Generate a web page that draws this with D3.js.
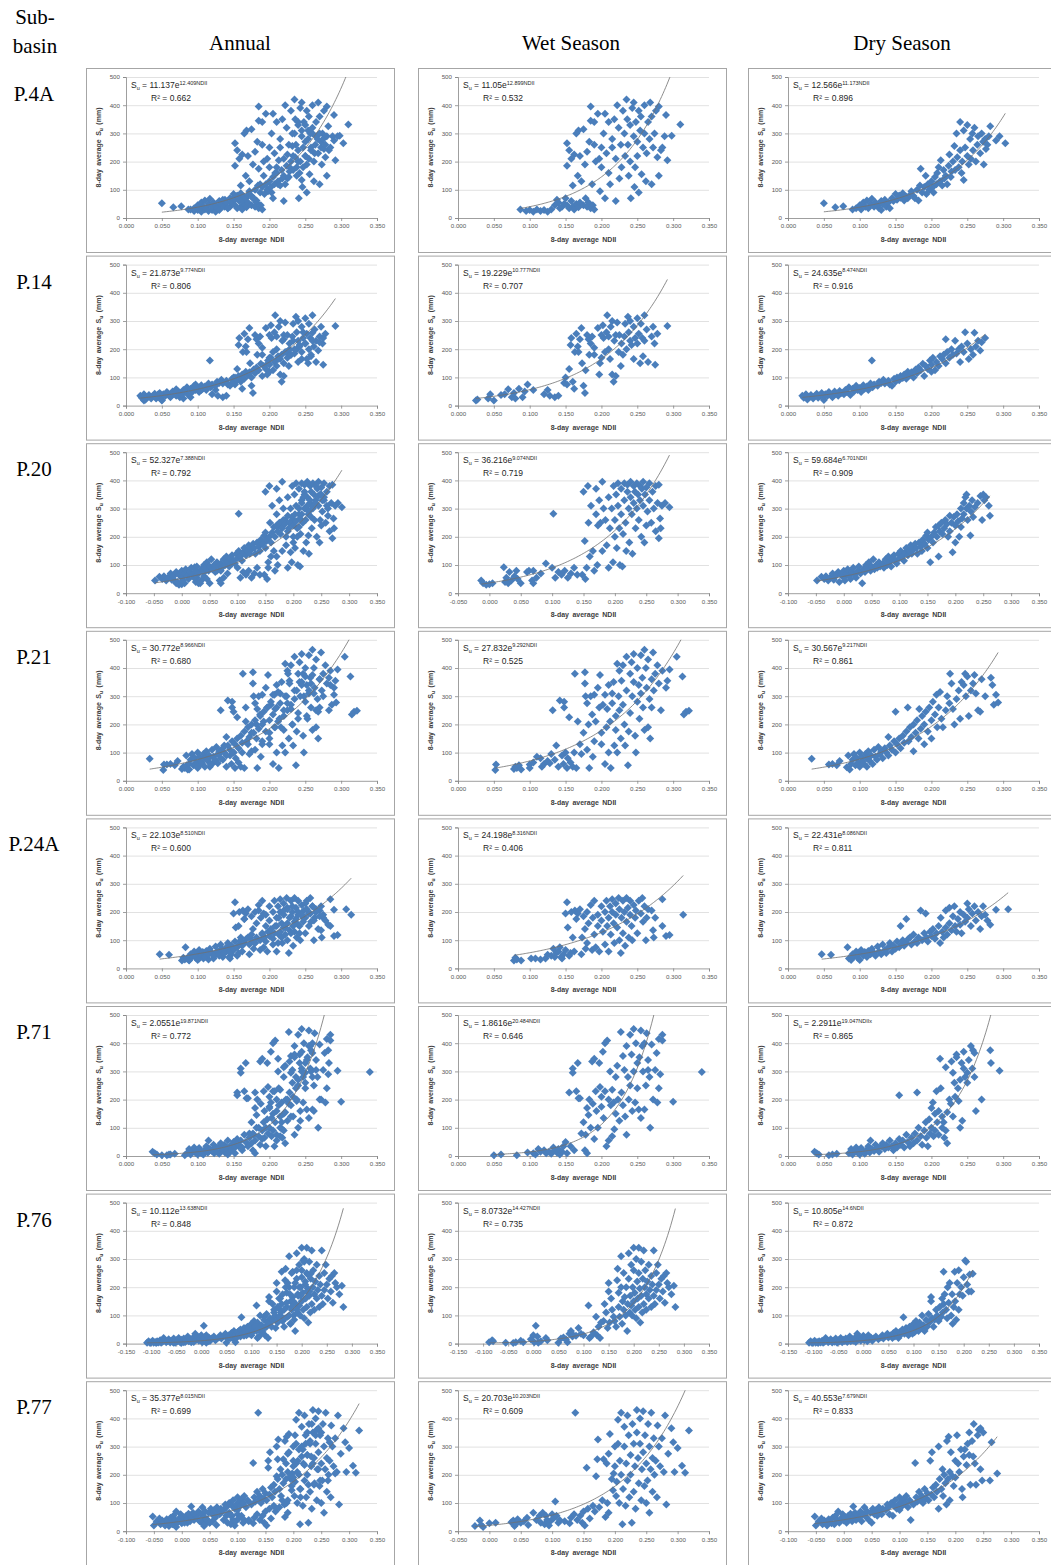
<!DOCTYPE html>
<html>
<head>
<meta charset="utf-8">
<script src="https://cdn.jsdelivr.net/npm/d3@7"></script>
<style>
body { margin: 0; background: #fff; }
svg { display: block; }
.hdr { font-family: "Liberation Serif", "Times New Roman", serif; font-size: 21px; fill: #000; }
.tick text { font-family: "Liberation Sans", Arial, sans-serif; font-size: 6.2px; fill: #595959; }
.ttl { font-family: "Liberation Sans", Arial, sans-serif; font-size: 7px; font-weight: bold; fill: #404040; word-spacing: 1.5px; }
.eq { font-family: "Liberation Sans", Arial, sans-serif; font-size: 8.5px; fill: #262626; }
</style>
</head>
<body>
<svg id="fig" width="1051" height="1565"></svg>
<script>
var subbasins = ['P.4A', 'P.14', 'P.20', 'P.21', 'P.24A', 'P.71', 'P.76', 'P.77'];
var columns = ['Annual', 'Wet Season', 'Dry Season'];

// left end of the NDII axis, per sub-basin: [annual, wet, dry]; right end is 0.350
var xMins = [[0, 0, 0], [0, 0, 0], [-0.1, -0.05, -0.1], [0, 0, 0],
             [0, 0, 0], [0, 0, 0], [-0.15, -0.15, -0.15], [-0.1, -0.05, -0.1]];
var yTicks = [0, 100, 200, 300, 400, 500];

// trendline labels [a, b, R2, suffix]  Su = a e^(b NDII)
var annualFits = [['11.137', '12.409', '0.662', 'NDII'], ['21.873', '9.774', '0.806', 'NDII'],
  ['52.327', '7.388', '0.792', 'NDII'], ['30.772', '8.966', '0.680', 'NDII'],
  ['22.103', '8.510', '0.600', 'NDII'], ['2.0551', '19.871', '0.772', 'NDII'],
  ['10.112', '13.638', '0.848', 'NDII'], ['35.377', '8.015', '0.699', 'NDII']];
var wetFits = [['11.05', '12.899', '0.532', 'NDII'], ['19.229', '10.777', '0.707', 'NDII'],
  ['36.216', '9.074', '0.719', 'NDII'], ['27.832', '9.292', '0.525', 'NDII'],
  ['24.198', '8.316', '0.406', 'NDII'], ['1.8616', '20.484', '0.646', 'NDII'],
  ['8.0732', '14.427', '0.735', 'NDII'], ['20.703', '10.203', '0.609', 'NDII']];
var dryFits = [['12.566', '11.173', '0.896', 'NDII'], ['24.635', '8.474', '0.916', 'NDII'],
  ['59.684', '6.701', '0.909', 'NDII'], ['30.567', '9.217', '0.861', 'NDII'],
  ['22.431', '8.086', '0.811', 'NDII'], ['2.2911', '19.047', '0.865', 'NDIIx'],
  ['10.805', '14.6', '0.872', 'NDII'], ['40.553', '7.679', '0.833', 'NDII']];

// 8-day points [NDII, Su mm]; the annual panel shows wet + dry together
var wetP4A = [[0.087,30],[0.095,25],[0.1,28],[0.105,22],[0.11,30],[0.115,25],[0.12,28],[0.125,22],[0.13,30],[0.135,45],[0.138,65],[0.14,55],[0.142,35],[0.145,40],[0.148,50],[0.15,70],[0.152,45],[0.155,35],[0.158,60],[0.16,40],[0.162,30],[0.165,50],[0.168,38],[0.17,55],[0.175,45],[0.178,70],[0.18,40],[0.182,55],[0.185,35],[0.188,45],[0.19,30],
  [0.152,265],[0.152,185],[0.155,240],[0.158,210],[0.16,115],[0.162,225],[0.165,300],[0.167,150],[0.168,310],[0.17,220],[0.172,130],[0.175,315],[0.177,190],[0.18,235],[0.183,270],[0.185,395],[0.185,345],[0.187,120],[0.19,340],[0.19,260],[0.192,200],[0.195,370],[0.197,210],[0.198,95],[0.2,250],[0.2,180],[0.203,300],[0.205,370],[0.205,70],[0.207,230],[0.21,340],[0.21,160],[0.212,120],[0.215,250],[0.215,280],[0.218,350],[0.22,210],[0.22,60],[0.222,400],[0.224,320],[0.225,140],[0.227,260],[0.228,180],[0.23,380],[0.232,300],[0.233,220],[0.235,420],[0.236,350],[0.237,260],[0.238,150],[0.24,200],[0.24,330],[0.241,70],[0.243,390],[0.245,410],[0.245,290],[0.246,110],[0.247,180],[0.248,340],[0.25,270],[0.25,220],[0.252,380],[0.252,90],[0.254,310],[0.255,360],[0.256,155],[0.258,250],[0.26,400],[0.26,300],[0.262,130],[0.263,230],[0.265,340],[0.267,280],[0.268,410],[0.27,120],[0.27,360],[0.272,250],[0.274,300],[0.276,380],[0.278,215],[0.28,150],[0.28,395],[0.283,240],[0.285,250],[0.288,290],[0.29,365],[0.292,205],[0.298,292],[0.31,332]];
var dryP4A = [[0.05,52],[0.066,38],[0.077,42],[0.09,30],[0.095,35],[0.1,45],[0.102,30],[0.105,55],[0.108,40],[0.11,62],[0.112,35],[0.115,50],[0.117,68],[0.12,40],[0.122,55],[0.125,45],[0.127,35],[0.13,60],[0.13,28],[0.132,50],[0.135,65],[0.137,40],[0.14,55],[0.142,35],[0.145,70],[0.147,60],[0.15,85],[0.152,65],[0.155,80],[0.157,72],[0.16,88],[0.162,62],[0.165,75],[0.167,70],[0.17,82],[0.172,95],[0.175,78],[0.177,70],[0.18,100],[0.182,62],[0.184,115],[0.185,175],[0.187,90],[0.19,110],[0.192,150],[0.193,85],[0.195,120],[0.197,100],[0.2,130],[0.202,110],[0.203,90],[0.205,145],[0.207,120],[0.208,160],[0.21,180],[0.212,130],[0.213,205],[0.215,115],[0.217,170],[0.218,140],[0.22,150],[0.222,120],[0.224,185],[0.225,225],[0.227,145],[0.228,165],[0.23,200],[0.232,255],[0.233,170],[0.235,300],[0.236,215],[0.238,180],[0.24,340],[0.24,240],[0.242,160],[0.243,200],[0.245,135],[0.245,310],[0.247,250],[0.25,220],[0.25,330],[0.252,190],[0.254,280],[0.255,210],[0.257,300],[0.258,240],[0.26,320],[0.262,200],[0.264,260],[0.265,290],[0.268,230],[0.27,300],[0.272,270],[0.273,190],[0.275,280],[0.276,245],[0.278,260],[0.28,290],[0.282,325],[0.29,275],[0.295,290],[0.303,265]];
var wetP14 = [[0.025,18],[0.027,22],[0.042,25],[0.045,40],[0.05,18],[0.06,38],[0.065,40],[0.07,58],[0.075,30],[0.078,45],[0.08,25],[0.085,60],[0.09,30],[0.093,50],[0.097,75],[0.105,55],[0.12,40],[0.125,55],[0.128,35],[0.135,30],[0.14,35],[0.148,80],[0.15,100],[0.152,75],[0.155,130],[0.157,215],[0.158,240],[0.16,85],[0.162,60],[0.163,190],[0.165,255],[0.167,210],[0.168,190],[0.17,235],[0.172,275],[0.173,150],[0.175,70],[0.177,45],[0.178,125],[0.18,250],[0.182,235],[0.183,180],[0.185,220],[0.187,245],[0.19,205],[0.19,180],[0.195,275],[0.197,110],[0.198,150],[0.2,250],[0.2,170],[0.202,285],[0.203,240],[0.205,190],[0.207,260],[0.208,320],[0.21,245],[0.21,200],[0.212,165],[0.213,280],[0.215,110],[0.215,300],[0.217,85],[0.218,230],[0.22,250],[0.22,105],[0.222,295],[0.224,190],[0.225,250],[0.227,140],[0.228,220],[0.23,180],[0.232,245],[0.233,290],[0.235,200],[0.237,315],[0.238,260],[0.24,230],[0.24,300],[0.242,215],[0.245,165],[0.245,280],[0.247,240],[0.25,220],[0.25,310],[0.252,255],[0.254,150],[0.255,290],[0.257,240],[0.258,175],[0.26,320],[0.26,230],[0.263,270],[0.265,155],[0.27,245],[0.272,280],[0.274,220],[0.275,145],[0.278,255],[0.292,282]];
var dryP14 = [[0.02,35],[0.022,28],[0.025,40],[0.027,22],[0.03,30],[0.032,38],[0.035,25],[0.037,33],[0.04,42],[0.042,28],[0.045,35],[0.047,45],[0.05,30],[0.05,20],[0.052,40],[0.055,35],[0.057,48],[0.06,38],[0.062,30],[0.065,50],[0.067,42],[0.07,35],[0.072,52],[0.075,45],[0.078,40],[0.08,55],[0.082,48],[0.085,65],[0.087,38],[0.09,60],[0.092,50],[0.095,70],[0.097,55],[0.1,62],[0.102,48],[0.105,72],[0.107,60],[0.11,68],[0.112,55],[0.115,78],[0.117,160],[0.118,65],[0.12,75],[0.125,70],[0.127,85],[0.13,80],[0.133,92],[0.135,78],[0.14,88],[0.142,75],[0.145,70],[0.148,95],[0.15,85],[0.152,100],[0.155,90],[0.157,105],[0.16,98],[0.162,110],[0.165,95],[0.167,120],[0.17,108],[0.172,118],[0.175,100],[0.178,128],[0.18,115],[0.182,135],[0.185,125],[0.188,148],[0.19,105],[0.192,140],[0.195,130],[0.198,160],[0.2,120],[0.2,145],[0.202,170],[0.205,125],[0.207,155],[0.21,140],[0.212,175],[0.215,165],[0.217,180],[0.22,235],[0.22,150],[0.222,190],[0.225,170],[0.228,200],[0.23,180],[0.233,230],[0.235,185],[0.238,200],[0.24,155],[0.242,210],[0.245,190],[0.247,260],[0.25,220],[0.252,165],[0.255,200],[0.258,180],[0.26,258],[0.262,210],[0.265,230],[0.268,195],[0.27,225],[0.275,240]];
var wetP20 = [[-0.013,45],[-0.01,35],[-0.005,30],[0,32],[0.005,35],[0.023,92],[0.025,40],[0.027,55],[0.03,35],[0.032,75],[0.035,45],[0.04,60],[0.043,80],[0.045,50],[0.05,35],[0.06,75],[0.063,80],[0.068,45],[0.07,80],[0.07,35],[0.075,55],[0.082,70],[0.09,105],[0.1,90],[0.102,282],[0.105,55],[0.11,75],[0.115,65],[0.12,80],[0.125,55],[0.13,70],[0.135,90],[0.14,65],[0.148,65],[0.15,360],[0.152,185],[0.153,50],[0.155,90],[0.157,380],[0.158,250],[0.16,130],[0.162,310],[0.165,150],[0.167,80],[0.17,370],[0.17,280],[0.172,100],[0.173,240],[0.175,330],[0.177,250],[0.18,395],[0.18,150],[0.182,300],[0.185,260],[0.187,170],[0.19,340],[0.19,90],[0.192,230],[0.195,300],[0.197,110],[0.198,380],[0.2,260],[0.2,200],[0.202,350],[0.203,160],[0.205,390],[0.205,310],[0.207,230],[0.208,100],[0.21,370],[0.21,280],[0.212,95],[0.213,210],[0.215,390],[0.215,330],[0.217,250],[0.218,150],[0.22,385],[0.22,360],[0.222,300],[0.223,180],[0.225,395],[0.225,340],[0.227,280],[0.228,140],[0.23,380],[0.23,320],[0.232,360],[0.233,230],[0.235,390],[0.235,300],[0.237,350],[0.238,260],[0.24,380],[0.24,330],[0.242,200],[0.243,370],[0.245,395],[0.245,310],[0.247,180],[0.248,350],[0.25,375],[0.25,240],[0.252,290],[0.255,390],[0.255,330],[0.258,250],[0.26,360],[0.262,300],[0.265,380],[0.265,220],[0.268,320],[0.27,385],[0.27,195],[0.272,265],[0.273,230],[0.275,310],[0.28,320],[0.287,305]];
var dryP20 = [[-0.048,45],[-0.04,58],[-0.035,50],[-0.032,60],[-0.028,45],[-0.025,55],[-0.02,70],[-0.018,48],[-0.015,60],[-0.01,75],[-0.008,40],[-0.005,65],[0,80],[0,55],[0.002,45],[0.005,70],[0.007,85],[0.01,60],[0.012,50],[0.015,75],[0.017,90],[0.02,65],[0.022,55],[0.025,80],[0.027,95],[0.03,70],[0.033,35],[0.035,85],[0.038,75],[0.04,100],[0.042,90],[0.045,110],[0.048,80],[0.05,95],[0.053,120],[0.055,85],[0.058,100],[0.06,90],[0.063,110],[0.065,95],[0.07,105],[0.072,90],[0.075,120],[0.078,100],[0.08,130],[0.082,110],[0.085,95],[0.088,120],[0.09,135],[0.093,115],[0.095,105],[0.098,140],[0.1,125],[0.102,150],[0.105,130],[0.108,115],[0.11,145],[0.112,160],[0.115,135],[0.118,150],[0.12,170],[0.122,140],[0.125,155],[0.128,175],[0.13,160],[0.132,140],[0.135,180],[0.138,165],[0.14,150],[0.142,190],[0.145,175],[0.148,205],[0.15,160],[0.15,215],[0.152,190],[0.155,110],[0.157,200],[0.16,180],[0.162,215],[0.165,235],[0.167,200],[0.17,130],[0.17,240],[0.172,220],[0.175,250],[0.177,210],[0.18,230],[0.182,260],[0.185,245],[0.187,200],[0.19,275],[0.19,220],[0.193,250],[0.195,145],[0.197,270],[0.2,240],[0.2,180],[0.203,280],[0.205,255],[0.207,200],[0.21,300],[0.21,235],[0.212,265],[0.215,320],[0.215,280],[0.218,340],[0.22,300],[0.22,350],[0.222,260],[0.225,310],[0.227,205],[0.228,290],[0.23,330],[0.232,270],[0.235,305],[0.24,320],[0.245,345],[0.248,260],[0.25,350],[0.252,330],[0.255,340],[0.26,310],[0.262,275]];
var wetP21 = [[0.052,38],[0.053,58],[0.078,42],[0.08,50],[0.082,45],[0.085,55],[0.088,40],[0.1,45],[0.1,58],[0.105,65],[0.11,85],[0.115,80],[0.117,50],[0.12,60],[0.125,70],[0.128,62],[0.13,95],[0.132,250],[0.135,75],[0.137,125],[0.14,50],[0.142,285],[0.145,90],[0.147,60],[0.148,260],[0.148,280],[0.15,100],[0.152,45],[0.153,80],[0.155,225],[0.157,65],[0.16,50],[0.162,100],[0.163,380],[0.165,45],[0.167,210],[0.17,130],[0.172,95],[0.175,170],[0.177,385],[0.177,345],[0.178,300],[0.18,275],[0.18,110],[0.182,200],[0.183,45],[0.185,300],[0.187,235],[0.188,85],[0.19,140],[0.19,305],[0.192,210],[0.195,330],[0.197,260],[0.198,375],[0.2,170],[0.2,130],[0.202,270],[0.205,305],[0.205,60],[0.207,190],[0.208,255],[0.21,340],[0.21,100],[0.212,210],[0.213,45],[0.215,310],[0.215,275],[0.217,350],[0.218,125],[0.22,180],[0.22,230],[0.222,415],[0.222,100],[0.224,300],[0.225,390],[0.225,250],[0.227,150],[0.228,355],[0.23,410],[0.23,270],[0.232,200],[0.233,125],[0.235,440],[0.235,320],[0.237,55],[0.238,175],[0.24,380],[0.24,240],[0.242,420],[0.243,300],[0.245,450],[0.245,350],[0.247,160],[0.248,100],[0.25,400],[0.25,280],[0.252,340],[0.253,220],[0.255,445],[0.255,310],[0.257,365],[0.258,260],[0.26,465],[0.26,180],[0.262,400],[0.263,330],[0.265,430],[0.265,190],[0.267,290],[0.268,150],[0.27,360],[0.27,260],[0.272,455],[0.273,320],[0.275,380],[0.278,410],[0.28,345],[0.283,250],[0.285,390],[0.29,330],[0.292,355],[0.295,395],[0.305,440],[0.313,370],[0.315,235],[0.318,245],[0.322,248]];
var dryP21 = [[0.033,78],[0.057,58],[0.062,60],[0.068,55],[0.072,70],[0.082,48],[0.084,90],[0.086,40],[0.088,60],[0.09,75],[0.092,95],[0.094,55],[0.096,80],[0.098,65],[0.1,100],[0.1,50],[0.102,85],[0.104,70],[0.106,60],[0.108,95],[0.11,80],[0.11,50],[0.112,105],[0.114,70],[0.116,90],[0.118,60],[0.12,110],[0.122,85],[0.124,75],[0.126,120],[0.128,95],[0.13,105],[0.132,80],[0.135,115],[0.137,100],[0.14,155],[0.14,90],[0.142,125],[0.145,110],[0.148,140],[0.15,245],[0.15,100],[0.152,130],[0.155,150],[0.157,115],[0.16,160],[0.162,135],[0.165,175],[0.167,260],[0.168,140],[0.17,190],[0.172,155],[0.175,105],[0.175,200],[0.178,170],[0.18,215],[0.182,150],[0.183,255],[0.185,185],[0.187,230],[0.19,200],[0.19,130],[0.192,245],[0.195,175],[0.197,260],[0.2,215],[0.2,150],[0.202,280],[0.205,235],[0.207,305],[0.208,190],[0.21,260],[0.212,315],[0.214,220],[0.216,190],[0.22,250],[0.222,300],[0.225,275],[0.226,380],[0.228,345],[0.23,255],[0.232,200],[0.235,290],[0.238,320],[0.24,220],[0.242,350],[0.245,340],[0.247,380],[0.248,300],[0.25,370],[0.252,230],[0.255,320],[0.258,345],[0.26,375],[0.262,310],[0.265,250],[0.268,245],[0.27,360],[0.275,300],[0.283,365],[0.285,340],[0.287,270],[0.29,305],[0.293,278]];
var wetP24A = [[0.078,28],[0.08,38],[0.082,32],[0.088,28],[0.102,35],[0.108,35],[0.115,32],[0.122,35],[0.125,48],[0.13,45],[0.133,70],[0.135,40],[0.137,55],[0.14,60],[0.142,75],[0.144,40],[0.145,35],[0.147,50],[0.15,195],[0.15,65],[0.152,235],[0.153,145],[0.155,45],[0.157,55],[0.158,200],[0.16,110],[0.162,60],[0.163,205],[0.165,175],[0.167,195],[0.17,210],[0.172,50],[0.173,110],[0.175,185],[0.177,140],[0.178,70],[0.18,90],[0.18,200],[0.182,160],[0.185,225],[0.187,65],[0.188,180],[0.19,240],[0.19,120],[0.192,75],[0.195,190],[0.195,150],[0.197,60],[0.2,220],[0.2,170],[0.202,130],[0.205,200],[0.205,85],[0.207,240],[0.208,150],[0.21,180],[0.21,60],[0.212,220],[0.213,120],[0.215,245],[0.215,200],[0.217,160],[0.218,90],[0.22,230],[0.22,190],[0.222,145],[0.224,250],[0.225,210],[0.225,100],[0.227,55],[0.228,180],[0.23,240],[0.23,125],[0.232,200],[0.233,80],[0.235,250],[0.235,165],[0.237,215],[0.238,110],[0.24,190],[0.24,240],[0.242,150],[0.243,100],[0.245,225],[0.247,180],[0.248,205],[0.25,125],[0.252,240],[0.255,195],[0.257,250],[0.258,165],[0.26,220],[0.262,100],[0.263,180],[0.265,210],[0.27,205],[0.272,135],[0.273,110],[0.275,180],[0.285,150],[0.285,245],[0.29,115],[0.295,118],[0.314,190]];
var dryP24A = [[0.047,50],[0.06,48],[0.083,75],[0.085,35],[0.088,30],[0.09,50],[0.092,42],[0.095,60],[0.097,38],[0.1,55],[0.1,30],[0.102,65],[0.105,45],[0.107,58],[0.11,40],[0.112,62],[0.115,50],[0.117,70],[0.12,55],[0.122,45],[0.125,78],[0.127,60],[0.13,50],[0.132,85],[0.135,65],[0.137,55],[0.14,75],[0.142,90],[0.145,60],[0.147,80],[0.15,70],[0.152,95],[0.155,75],[0.157,150],[0.158,85],[0.16,100],[0.162,80],[0.165,175],[0.165,90],[0.168,105],[0.17,110],[0.172,85],[0.175,120],[0.177,95],[0.18,90],[0.182,110],[0.185,205],[0.187,100],[0.19,125],[0.192,195],[0.193,110],[0.195,95],[0.198,130],[0.2,115],[0.202,140],[0.205,105],[0.207,125],[0.21,150],[0.212,90],[0.213,180],[0.215,130],[0.217,110],[0.22,205],[0.22,145],[0.222,120],[0.225,215],[0.225,160],[0.228,135],[0.23,185],[0.232,220],[0.233,150],[0.235,130],[0.237,175],[0.24,200],[0.24,155],[0.242,125],[0.245,190],[0.247,165],[0.25,230],[0.25,180],[0.252,210],[0.255,150],[0.257,195],[0.26,220],[0.262,170],[0.265,200],[0.268,140],[0.27,185],[0.272,220],[0.275,190],[0.278,170],[0.282,155],[0.29,208],[0.307,210]];
var wetP71 = [[0.05,3],[0.06,5],[0.082,3],[0.097,12],[0.105,10],[0.108,5],[0.112,25],[0.115,15],[0.12,20],[0.123,10],[0.127,15],[0.13,8],[0.133,30],[0.135,20],[0.138,12],[0.14,25],[0.142,5],[0.145,15],[0.147,35],[0.15,50],[0.152,10],[0.155,225],[0.157,35],[0.16,310],[0.16,295],[0.162,20],[0.165,230],[0.167,330],[0.168,205],[0.17,205],[0.172,80],[0.175,120],[0.177,20],[0.178,75],[0.18,170],[0.18,10],[0.182,145],[0.183,200],[0.185,100],[0.187,335],[0.188,185],[0.19,345],[0.19,60],[0.192,230],[0.193,160],[0.195,100],[0.197,330],[0.198,245],[0.2,210],[0.2,175],[0.202,370],[0.203,135],[0.205,400],[0.205,230],[0.207,35],[0.208,410],[0.21,200],[0.21,55],[0.212,300],[0.213,180],[0.215,70],[0.215,235],[0.217,190],[0.218,95],[0.22,280],[0.22,150],[0.222,320],[0.223,200],[0.225,125],[0.227,440],[0.228,225],[0.23,355],[0.23,180],[0.232,305],[0.233,140],[0.235,390],[0.235,75],[0.237,280],[0.238,200],[0.24,430],[0.24,250],[0.242,360],[0.243,160],[0.245,450],[0.245,300],[0.247,190],[0.248,400],[0.25,330],[0.25,240],[0.252,165],[0.253,350],[0.255,445],[0.255,135],[0.257,390],[0.258,300],[0.26,400],[0.26,165],[0.262,250],[0.263,435],[0.265,340],[0.265,305],[0.267,280],[0.268,100],[0.27,395],[0.272,200],[0.275,305],[0.277,365],[0.278,190],[0.28,415],[0.28,240],[0.282,290],[0.285,430],[0.285,410],[0.3,192],[0.34,298]];
var dryP71 = [[0.037,15],[0.04,10],[0.043,5],[0.057,3],[0.062,5],[0.068,8],[0.085,10],[0.088,25],[0.09,5],[0.092,18],[0.095,30],[0.097,12],[0.1,20],[0.1,5],[0.102,28],[0.105,15],[0.107,8],[0.11,22],[0.112,35],[0.114,12],[0.115,55],[0.117,25],[0.12,18],[0.122,40],[0.125,30],[0.127,15],[0.13,35],[0.132,45],[0.135,25],[0.137,40],[0.14,30],[0.142,55],[0.145,35],[0.147,20],[0.15,45],[0.152,30],[0.155,60],[0.155,215],[0.157,40],[0.16,55],[0.162,30],[0.165,75],[0.167,50],[0.17,35],[0.172,65],[0.175,45],[0.177,80],[0.18,225],[0.18,55],[0.182,100],[0.185,70],[0.187,40],[0.19,90],[0.192,120],[0.193,65],[0.195,35],[0.197,130],[0.198,80],[0.2,170],[0.2,100],[0.202,190],[0.203,70],[0.205,150],[0.205,90],[0.207,230],[0.208,120],[0.21,160],[0.21,75],[0.212,345],[0.213,240],[0.215,140],[0.215,100],[0.217,120],[0.218,65],[0.22,315],[0.22,90],[0.222,45],[0.222,155],[0.225,200],[0.227,185],[0.228,335],[0.23,295],[0.23,140],[0.232,260],[0.233,210],[0.235,360],[0.235,350],[0.237,240],[0.238,195],[0.24,270],[0.24,100],[0.242,330],[0.243,125],[0.245,370],[0.245,310],[0.247,280],[0.25,295],[0.25,260],[0.252,340],[0.255,390],[0.257,310],[0.258,375],[0.26,280],[0.26,365],[0.262,160],[0.27,200],[0.282,375],[0.283,330],[0.295,302]];
var wetP76 = [[-0.088,5],[-0.082,12],[-0.08,8],[-0.055,3],[-0.04,2],[-0.035,5],[-0.025,10],[-0.02,5],[-0.005,15],[0,30],[0.002,5],[0.005,63],[0.008,25],[0.01,3],[0.015,8],[0.025,20],[0.028,12],[0.05,3],[0.055,18],[0.06,22],[0.065,15],[0.068,5],[0.072,35],[0.075,45],[0.078,25],[0.08,30],[0.085,28],[0.09,55],[0.095,35],[0.1,30],[0.11,135],[0.112,20],[0.115,25],[0.12,40],[0.125,95],[0.127,30],[0.13,60],[0.133,20],[0.135,75],[0.14,80],[0.142,140],[0.145,110],[0.148,55],[0.15,215],[0.15,185],[0.152,75],[0.155,160],[0.157,120],[0.16,95],[0.162,80],[0.165,60],[0.167,225],[0.168,265],[0.17,180],[0.17,130],[0.172,95],[0.175,310],[0.175,200],[0.177,70],[0.178,150],[0.18,250],[0.18,120],[0.182,165],[0.184,100],[0.185,200],[0.187,45],[0.188,140],[0.19,320],[0.19,230],[0.192,110],[0.193,170],[0.195,280],[0.195,135],[0.197,100],[0.198,200],[0.2,340],[0.2,260],[0.2,150],[0.202,180],[0.203,120],[0.205,300],[0.205,90],[0.207,220],[0.208,160],[0.21,340],[0.21,250],[0.21,130],[0.212,195],[0.213,75],[0.215,290],[0.215,170],[0.217,110],[0.218,230],[0.22,330],[0.22,140],[0.222,200],[0.223,260],[0.225,175],[0.225,120],[0.227,220],[0.23,160],[0.23,280],[0.232,190],[0.235,130],[0.235,240],[0.237,210],[0.24,170],[0.24,330],[0.242,140],[0.245,250],[0.245,190],[0.248,280],[0.25,210],[0.252,160],[0.255,230],[0.258,185],[0.26,240],[0.262,145],[0.265,250],[0.267,215],[0.27,200],[0.275,175],[0.28,205],[0.283,130]];
var dryP76 = [[-0.108,3],[-0.105,8],[-0.102,2],[-0.1,5],[-0.097,10],[-0.095,3],[-0.092,6],[-0.09,2],[-0.088,8],[-0.085,4],[-0.082,10],[-0.08,3],[-0.077,7],[-0.075,20],[-0.073,12],[-0.07,5],[-0.067,9],[-0.065,15],[-0.062,4],[-0.06,10],[-0.057,7],[-0.055,18],[-0.052,3],[-0.05,12],[-0.047,8],[-0.045,20],[-0.042,5],[-0.04,14],[-0.037,9],[-0.035,18],[-0.032,6],[-0.03,12],[-0.027,25],[-0.025,8],[-0.022,15],[-0.02,10],[-0.017,20],[-0.015,6],[-0.012,35],[-0.01,14],[-0.007,22],[-0.005,10],[-0.002,18],[0,28],[0.002,12],[0.005,20],[0.008,8],[0.01,30],[0.012,15],[0.015,22],[0.018,10],[0.02,18],[0.025,25],[0.03,15],[0.035,22],[0.038,30],[0.04,18],[0.045,28],[0.048,35],[0.05,22],[0.055,30],[0.058,20],[0.06,38],[0.063,25],[0.065,45],[0.068,30],[0.07,20],[0.072,40],[0.075,32],[0.078,50],[0.08,93],[0.082,35],[0.085,55],[0.088,40],[0.09,30],[0.092,60],[0.095,45],[0.098,35],[0.1,70],[0.1,50],[0.102,40],[0.105,80],[0.107,60],[0.11,45],[0.112,75],[0.115,55],[0.117,100],[0.12,65],[0.122,45],[0.125,85],[0.127,60],[0.13,105],[0.132,75],[0.135,165],[0.135,150],[0.137,90],[0.14,60],[0.142,85],[0.145,120],[0.147,100],[0.15,80],[0.152,130],[0.155,95],[0.157,160],[0.158,110],[0.16,255],[0.16,140],[0.162,175],[0.165,120],[0.167,90],[0.168,200],[0.17,145],[0.172,215],[0.175,100],[0.177,175],[0.178,70],[0.18,130],[0.182,255],[0.183,150],[0.185,85],[0.187,215],[0.19,260],[0.19,120],[0.192,175],[0.195,200],[0.198,170],[0.2,235],[0.203,295],[0.205,290],[0.207,210],[0.21,185],[0.212,245],[0.215,185],[0.218,248]];
var wetP77 = [[-0.023,18],[-0.015,38],[-0.013,22],[-0.01,15],[0,28],[0.01,30],[0.035,32],[0.038,38],[0.04,18],[0.042,25],[0.045,42],[0.05,30],[0.055,35],[0.06,48],[0.062,22],[0.07,65],[0.075,40],[0.08,55],[0.082,30],[0.085,65],[0.088,25],[0.09,55],[0.092,40],[0.095,20],[0.097,35],[0.1,60],[0.102,45],[0.105,105],[0.107,55],[0.11,30],[0.112,40],[0.12,35],[0.128,28],[0.13,48],[0.135,60],[0.137,420],[0.14,40],[0.145,55],[0.148,30],[0.15,70],[0.152,20],[0.155,225],[0.157,80],[0.16,45],[0.165,90],[0.168,70],[0.17,195],[0.172,255],[0.173,325],[0.175,85],[0.18,110],[0.182,255],[0.185,50],[0.187,240],[0.188,100],[0.19,275],[0.19,65],[0.192,345],[0.195,185],[0.197,145],[0.198,205],[0.2,300],[0.2,230],[0.202,125],[0.203,175],[0.205,395],[0.205,310],[0.207,100],[0.208,250],[0.21,420],[0.21,200],[0.212,25],[0.213,150],[0.215,370],[0.215,300],[0.217,90],[0.218,240],[0.22,410],[0.22,180],[0.222,340],[0.223,120],[0.225,270],[0.225,200],[0.227,30],[0.228,380],[0.23,310],[0.23,140],[0.232,230],[0.233,80],[0.235,430],[0.235,350],[0.237,260],[0.238,170],[0.24,400],[0.24,310],[0.242,110],[0.243,220],[0.245,425],[0.245,280],[0.247,160],[0.248,340],[0.25,240],[0.25,100],[0.252,180],[0.253,380],[0.255,65],[0.255,300],[0.257,220],[0.258,420],[0.26,260],[0.26,140],[0.262,330],[0.263,200],[0.265,250],[0.267,120],[0.268,375],[0.27,300],[0.272,230],[0.275,330],[0.278,210],[0.28,410],[0.282,95],[0.285,275],[0.29,365],[0.293,315],[0.295,210],[0.3,295],[0.307,232],[0.312,207],[0.318,357]];
var dryP77 = [[-0.052,52],[-0.05,20],[-0.045,35],[-0.04,45],[-0.038,25],[-0.035,38],[-0.032,30],[-0.03,20],[-0.027,42],[-0.025,35],[-0.022,28],[-0.02,48],[-0.017,25],[-0.015,55],[-0.012,40],[-0.01,70],[-0.008,30],[-0.005,45],[-0.002,60],[0,38],[0.002,50],[0.005,30],[0.008,55],[0.01,42],[0.012,62],[0.015,35],[0.017,88],[0.018,50],[0.02,65],[0.022,40],[0.025,58],[0.028,48],[0.03,70],[0.032,35],[0.035,60],[0.037,85],[0.04,50],[0.042,70],[0.045,40],[0.048,65],[0.05,30],[0.052,80],[0.055,60],[0.058,75],[0.06,55],[0.063,85],[0.065,70],[0.068,60],[0.07,80],[0.075,75],[0.078,95],[0.08,85],[0.082,60],[0.085,100],[0.088,55],[0.09,90],[0.092,110],[0.095,80],[0.098,95],[0.1,120],[0.1,75],[0.103,105],[0.105,90],[0.108,115],[0.11,100],[0.112,125],[0.115,85],[0.118,110],[0.12,40],[0.122,100],[0.125,95],[0.128,242],[0.13,120],[0.132,105],[0.135,140],[0.138,110],[0.14,125],[0.142,100],[0.145,150],[0.147,115],[0.15,135],[0.152,110],[0.155,250],[0.157,130],[0.158,280],[0.16,155],[0.162,120],[0.165,165],[0.167,140],[0.17,80],[0.17,300],[0.172,185],[0.175,150],[0.177,220],[0.178,125],[0.18,200],[0.182,170],[0.184,95],[0.185,320],[0.187,185],[0.188,335],[0.19,110],[0.19,210],[0.192,280],[0.195,195],[0.197,160],[0.2,250],[0.2,190],[0.203,340],[0.205,240],[0.207,210],[0.21,290],[0.212,150],[0.213,120],[0.215,265],[0.217,290],[0.22,235],[0.222,310],[0.225,350],[0.225,270],[0.227,165],[0.23,320],[0.232,265],[0.233,380],[0.235,240],[0.237,165],[0.24,340],[0.242,360],[0.245,220],[0.245,365],[0.248,180],[0.25,350],[0.262,180],[0.265,315],[0.275,205]];

var wetData = [wetP4A, wetP14, wetP20, wetP21, wetP24A, wetP71, wetP76, wetP77];
var dryData = [dryP4A, dryP14, dryP20, dryP21, dryP24A, dryP71, dryP76, dryP77];

var svg = d3.select('#fig');
var colLeft = [86, 418, 748];
var boxW = 308, plotW = 251, plotH = 141;
function rowTop(i) { return 77 + i * 187.6; }

// headers
svg.append('text').attr('class', 'hdr').attr('x', 35).attr('y', 24).attr('text-anchor', 'middle').text('Sub-');
svg.append('text').attr('class', 'hdr').attr('x', 35).attr('y', 53).attr('text-anchor', 'middle').text('basin');
var colCenter = [240, 571, 902];
columns.forEach(function(c, i) {
    svg.append('text').attr('class', 'hdr').attr('x', colCenter[i]).attr('y', 50)
        .attr('text-anchor', 'middle').text(c);
});

var diamond = 'M0,-4L4,0L0,4L-4,0Z';

function drawPanel(pts, fit, xMin, left, top, id) {
    var g = svg.append('g');
    var px = left + 40;
    var x = d3.scaleLinear().domain([xMin, 0.35]).range([px, px + plotW]);
    var y = d3.scaleLinear().domain([0, 500]).range([top + plotH, top]);

    g.append('rect').attr('x', left + 0.5).attr('y', top - 8.5).attr('width', boxW).attr('height', 184)
        .attr('fill', '#fff').attr('stroke', '#a6a6a6');

    // gridlines
    g.append('g').attr('transform', 'translate(' + px + ',0)')
        .call(d3.axisLeft(y).tickValues(yTicks.slice(1)).tickSize(-plotW).tickFormat(''))
        .call(function(s) {
            s.select('.domain').remove();
            s.selectAll('line').attr('stroke', '#d9d9d9').attr('stroke-width', 0.8);
        });

    // axes
    var ya = g.append('g').attr('transform', 'translate(' + px + ',0)')
        .call(d3.axisLeft(y).tickValues(yTicks).tickSize(3).tickPadding(3).tickFormat(d3.format('d')));
    var k0 = Math.round(xMin * 20);
    var xt = d3.range(k0, 8).map(function(k) { return k / 20; });
    var xa = g.append('g').attr('transform', 'translate(0,' + (top + plotH) + ')')
        .call(d3.axisBottom(x).tickValues(xt).tickSize(3).tickPadding(3)
            .tickFormat(function(d) { return d.toFixed(3); }));
    [ya, xa].forEach(function(a) {
        a.selectAll('.domain, line').attr('stroke', '#868686').attr('stroke-width', 0.8);
    });

    // axis titles
    g.append('text').attr('class', 'ttl').attr('text-anchor', 'middle')
        .attr('x', px + plotW / 2).attr('y', top + plotH + 24).text('8-day average NDII');
    var yt = g.append('text').attr('class', 'ttl').attr('text-anchor', 'middle')
        .attr('transform', 'translate(' + (px - 25) + ',' + (top + plotH / 2) + ') rotate(-90)');
    yt.append('tspan').text('8-day average S');
    yt.append('tspan').attr('font-size', '5px').attr('dy', 2).text('u');
    yt.append('tspan').attr('dy', -2).text(' (mm)');

    // points
    g.append('g').selectAll('path').data(pts).join('path')
        .attr('d', diamond)
        .attr('transform', function(d) { return 'translate(' + x(d[0]) + ',' + y(d[1]) + ')'; })
        .attr('fill', '#4a7ebb');

    // exponential trendline over the data range
    g.append('clipPath').attr('id', id).append('rect')
        .attr('x', px).attr('y', top).attr('width', plotW).attr('height', plotH);
    var a = +fit[0], b = +fit[1];
    var ext = d3.extent(pts, function(d) { return d[0]; });
    var xs = d3.range(0, 121).map(function(i) { return ext[0] + (ext[1] - ext[0]) * i / 120; });
    g.append('path').attr('clip-path', 'url(#' + id + ')')
        .attr('d', d3.line().x(function(v) { return x(v); })
            .y(function(v) { return y(a * Math.exp(b * v)); })(xs))
        .attr('fill', 'none').attr('stroke', '#707070').attr('stroke-width', 0.8);

    // equation
    var eq = g.append('text').attr('class', 'eq').attr('x', px + 5).attr('y', top + 11);
    eq.append('tspan').text('S');
    eq.append('tspan').attr('font-size', '5.5px').attr('dy', 2).text('u');
    eq.append('tspan').attr('dy', -2).text(' = ' + fit[0] + 'e');
    eq.append('tspan').attr('font-size', '5.5px').attr('dy', -3.5).text(fit[1] + fit[3]);
    g.append('text').attr('class', 'eq').attr('x', px + 25).attr('y', top + 24).text('R\u00b2 = ' + fit[2]);
}

subbasins.forEach(function(name, r) {
    var top = rowTop(r);
    svg.append('text').attr('class', 'hdr').attr('font-size', '22px').attr('x', 34).attr('y', top + 24)
        .attr('text-anchor', 'middle').text(name);
    var sets = [wetData[r].concat(dryData[r]), wetData[r], dryData[r]];
    var fits = [annualFits[r], wetFits[r], dryFits[r]];
    for (var c = 0; c < 3; c++) {
        drawPanel(sets[c], fits[c], xMins[r][c], colLeft[c], top, 'clip' + r + '_' + c);
    }
});
</script>
</body>
</html>
